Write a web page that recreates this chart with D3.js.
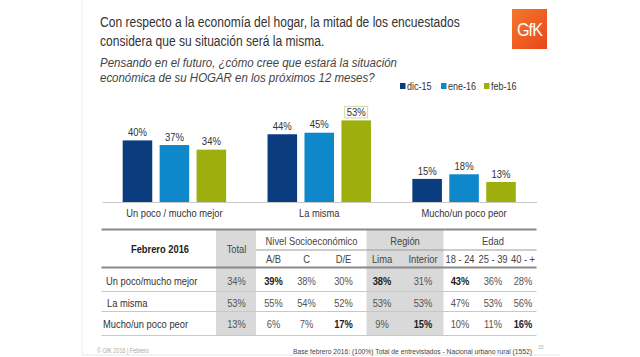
<!DOCTYPE html>
<html><head><meta charset="utf-8">
<script src="https://cdn.jsdelivr.net/npm/d3@7"></script>
<style>
html,body{margin:0;padding:0;background:#fff;}
svg{display:block;font-family:"Liberation Sans",Arial,sans-serif;}
</style></head>
<body><svg id="c" width="640" height="357"></svg>
<script>
// ---- data ----
const categories = ["Un poco / mucho mejor", "La misma", "Mucho/un poco peor"];
const seriesNames = ["dic-15", "ene-16", "feb-16"];
const dic15 = [40, 44, 15];
const ene16 = [37, 45, 18];
const feb16 = [34, 53, 13];
const highlight = ["feb-16", "La misma"];

const tableTitle = "Febrero 2016";
const groupHeaders = ["Total", "Nivel Socioeconómico", "Región", "Edad"];
const colHeaders = ["Total", "A/B", "C", "D/E", "Lima", "Interior", "18 - 24", "25 - 39", "40 - +"];
const rowLabels = ["Un poco/mucho mejor", "La misma", "Mucho/un poco peor"];
const rowMejor = [34, 39, 38, 30, 38, 31, 43, 36, 28];
const rowMisma = [53, 55, 54, 52, 53, 53, 47, 53, 56];
const rowPeor  = [13, 6, 7, 17, 9, 15, 10, 11, 16];
const boldMejor = [false, true, false, false, true, false, true, false, false];
const boldMisma = [false, false, false, false, false, false, false, false, false];
const boldPeor  = [false, false, false, true, false, true, false, false, true];

const titleLines = ["Con respecto a la economía del hogar, la mitad de los encuestados",
                    "considera que su situación será la misma."];
const subtitleLines = ["Pensando en el futuro, ¿cómo cree que estará la situación",
                       "económica de su HOGAR en los próximos 12 meses?"];
const footerLeft = "© GfK 2016 | Febrero";
const footerBase = "Base febrero 2016: (100%) Total de entrevistados - Nacional urbano rural  (1552)";
const pageNum = "15";

// ---- layout ----
const SX = 0.85; // horizontal squish of the original slide text
const colors = ["#0b3d7e", "#0f88cb", "#9dae0d"];
const svg = d3.select("#c");

function T(parent, x, y, str, size, opts = {}) {
  const t = parent.append("text")
    .attr("transform", `translate(${x},${y}) scale(${SX},1)`)
    .attr("font-size", size)
    .attr("fill", opts.fill || "#333")
    .attr("text-anchor", opts.anchor || "start");
  if (opts.bold) t.attr("font-weight", "bold");
  if (opts.italic) t.attr("font-style", "italic");
  if (str !== null) t.text(str);
  return t;
}

// slide frame
svg.append("line").attr("x1",82).attr("x2",82).attr("y1",0).attr("y2",355).attr("stroke","#ececec");
svg.append("line").attr("x1",82).attr("x2",560).attr("y1",355).attr("y2",355).attr("stroke","#e6e6e6");

// title
const tt = T(svg, 100, 27, null, 14.2, {fill:"#333"});
titleLines.forEach((t,i)=>tt.append("tspan").attr("x",0).attr("dy",i?19.5:0).text(t));
const st = T(svg, 100, 67, null, 13.5, {fill:"#444", italic:true});
subtitleLines.forEach((t,i)=>st.append("tspan").attr("x",0).attr("dy",i?15.5:0).text(t));

// logo
const lg = svg.append("g").attr("transform","translate(512,9)");
const grad = svg.append("defs").append("linearGradient").attr("id","lgg").attr("x1",0).attr("y1",0).attr("x2",1).attr("y2",1);
grad.append("stop").attr("offset","0%").attr("stop-color","#f5782a");
grad.append("stop").attr("offset","100%").attr("stop-color","#e8461c");
lg.append("rect").attr("width",35).attr("height",40).attr("fill","url(#lgg)");
T(lg, 17.5, 27, "GfK", 19, {fill:"#fff", anchor:"middle"}).attr("letter-spacing","-1");

// legend
const legX = [400, 441, 484];
seriesNames.forEach((s,i)=>{
  svg.append("rect").attr("x",legX[i]).attr("y",83).attr("width",5.5).attr("height",6).attr("fill",colors[i]);
  T(svg, legX[i]+7, 90, s, 10.6, {fill:"#333"});
});

// bars
const baseY = 202;
const x0 = d3.scaleBand().domain(categories).range([102, 536.5]).paddingInner(0).paddingOuter(0);
const x1 = d3.scaleBand().domain(seriesNames).range([0, x0.bandwidth()]).paddingInner(0.2).paddingOuter(0.56);
const y = d3.scaleLinear().domain([0, 53]).range([baseY, baseY - 81.6]);
const seriesVals = [dic15, ene16, feb16];

const gBars = svg.append("g");
categories.forEach((c,ci)=>{
  seriesNames.forEach((s,si)=>{
    const v = seriesVals[si][ci];
    const bx = x0(c) + x1(s);
    gBars.append("rect").attr("x",bx).attr("y",y(v)).attr("width",x1.bandwidth()).attr("height",baseY - y(v)).attr("fill",colors[si]);
    const cx = bx + x1.bandwidth()/2;
    if (s === highlight[0] && c === highlight[1]) {
      gBars.append("rect").attr("x",cx-11.5).attr("y",y(v)-14).attr("width",23).attr("height",11.5)
        .attr("fill","#fff").attr("stroke","#d2d4a8").attr("stroke-width",1);
    }
    T(gBars, cx, y(v)-4.4, v + "%", 11.2, {fill:"#333", anchor:"middle"});
  });
});
const xAxis = svg.append("g").attr("transform",`translate(0,${baseY})`)
  .call(d3.axisBottom(x0).tickSize(0).tickPadding(7.5));
xAxis.select(".domain").attr("stroke","#c8c8c8").attr("stroke-width",1);
xAxis.selectAll("text").attr("font-size",11).attr("fill","#333")
  .attr("font-family","Liberation Sans, Arial, sans-serif").attr("transform",`scale(${SX},1)`);

// table
const tL = 101.5, tR = 536.5;
const colX = [236.5, 273.5, 306.5, 343.5, 382, 423, 460, 493, 523];
const shade = [[216, 256], [366.5, 443.5]];
const yTop = 229.5, yGrp = 250, yHead = 267.5;
const rowLines = [291.5, 311.5, 335.5];
const rowY = [284.7, 306.5, 328];
const rows = [rowMejor, rowMisma, rowPeor];
const bolds = [boldMejor, boldMisma, boldPeor];
const fs = 11;
const tg = svg.append("g");
shade.forEach(s=>tg.append("rect").attr("x",s[0]).attr("y",yTop).attr("width",s[1]-s[0]).attr("height",rowLines[2]-yTop).attr("fill","#d9d9d9"));
tg.append("line").attr("x1",tL).attr("x2",tR).attr("y1",yTop).attr("y2",yTop).attr("stroke","#8a8a8a").attr("stroke-width",2);
tg.append("line").attr("x1",256).attr("x2",tR).attr("y1",yGrp).attr("y2",yGrp).attr("stroke","#9a9a9a").attr("stroke-width",1.2);
tg.append("line").attr("x1",tL).attr("x2",tR).attr("y1",yHead).attr("y2",yHead).attr("stroke","#8a8a8a").attr("stroke-width",2);
rowLines.forEach(ly=>tg.append("line").attr("x1",tL).attr("x2",tR).attr("y1",ly).attr("y2",ly).attr("stroke","#c8c8c8").attr("stroke-width",1));

T(tg, 160, 253.3, tableTitle, fs, {anchor:"middle", bold:true, fill:"#222"});
T(tg, colX[0], 253.3, groupHeaders[0], fs, {anchor:"middle", fill:"#444"});
T(tg, 311.5, 244.7, groupHeaders[1], fs, {anchor:"middle", fill:"#444"});
T(tg, 405, 244.7, groupHeaders[2], fs, {anchor:"middle", fill:"#444"});
T(tg, 493, 244.7, groupHeaders[3], fs, {anchor:"middle", fill:"#444"});
colHeaders.slice(1).forEach((h,i)=>T(tg, colX[i+1], 263, h, fs, {anchor:"middle", fill:"#444"}));
const labX = [106, 107, 103];
rowLabels.forEach((r,ri)=>{
  T(tg, labX[ri], rowY[ri], r, fs, {fill:"#333"});
  rows[ri].forEach((v,ci)=>{
    T(tg, colX[ci], rowY[ri], v + "%", fs, {anchor:"middle", bold:bolds[ri][ci], fill:bolds[ri][ci]?"#222":"#555"});
  });
});

// footer
T(svg, 97, 353, footerLeft, 6.4, {fill:"#aaa"});
T(svg, 532, 353.5, footerBase, 7.9, {anchor:"end", fill:"#444"});
T(svg, 538, 349, pageNum, 5.8, {fill:"#aaa"});
</script></body></html>
